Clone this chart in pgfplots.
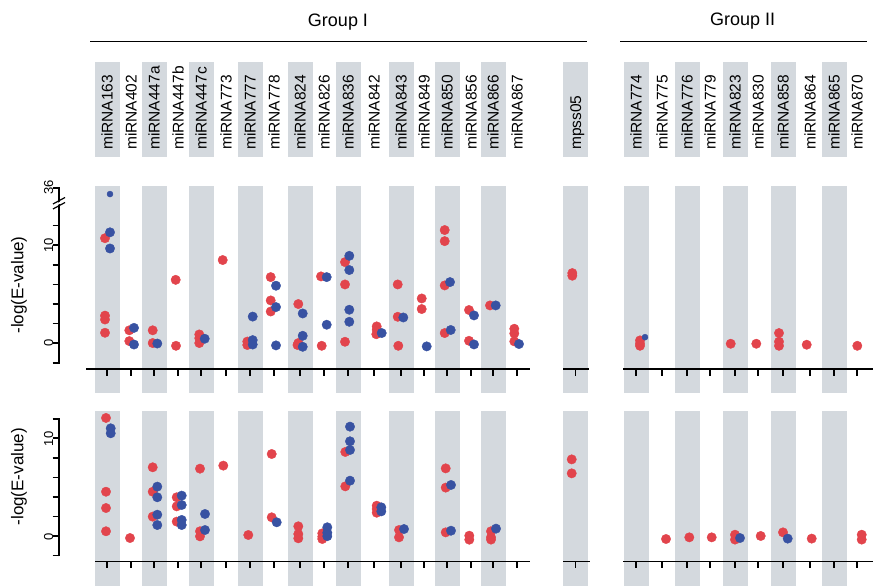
\documentclass[border=0pt]{standalone}
\usepackage{pgfplots}
\pgfplotsset{compat=1.18}
\usepackage{fontspec}
\setmainfont{Liberation Sans}
\definecolor{band}{RGB}{212,217,222}
\definecolor{dred}{RGB}{226,68,76}
\definecolor{dblue}{RGB}{56,82,162}
\begin{document}
\begin{tikzpicture}[x=1pt,y=1pt]
\useasboundingbox (0,0) rectangle (873,586);
% group headers
\node[font=\fontsize{18}{20}\selectfont, anchor=base] at (338,559.3) {Group I};
\node[font=\fontsize{18}{20}\selectfont, anchor=base] at (742.7,560) {Group II};
\draw[line width=1.6pt] (90,544.3) -- (587,544.3);
\draw[line width=1.6pt] (620,544.3) -- (867,544.3);
% shaded columns (labels and both panels)
\foreach \c in {107,154,201,250,300,348,401,447,493,575.5,636,687,735,783,834}{
  \fill[band] (\c-12.5,429) rectangle (\c+12.5,524);
  \fill[band] (\c-12.5,193) rectangle (\c+12.5,400);
  \fill[band] (\c-12.5,-2) rectangle (\c+12.5,175);
}
% category labels
\foreach \c/\t in {107/miRNA163,131/miRNA402,154/miRNA447a,178/miRNA447b,201/miRNA447c,226/miRNA773,250/miRNA777,274/miRNA778,300/miRNA824,324/miRNA826,348/miRNA836,374/miRNA842,401/miRNA843,424/miRNA849,447/miRNA850,471/miRNA856,493/miRNA866,517/miRNA867,575.5/mpss05,636/miRNA774,662/miRNA775,687/miRNA776,710/miRNA779,735/miRNA823,758/miRNA830,783/miRNA858,810/miRNA864,834/miRNA865,857/miRNA870}{
  \node[rotate=90, anchor=west, inner sep=0pt, text height=11pt, text depth=0pt, font=\fontsize{15.5}{17}\selectfont] at (\c,436) {\t};
}
% category axes (broken into three segments) with ticks
\draw[line width=1.6pt] (86,217) -- (530,217);
\draw[line width=1.6pt] (563,217) -- (589,217);
\draw[line width=1.6pt] (623,217) -- (873,217);
\draw[line width=1.6pt] (95,24.3) -- (530,24.3);
\draw[line width=1.6pt] (563,24.3) -- (590,24.3);
\draw[line width=1.6pt] (623,24.3) -- (873,24.3);
\foreach \c in {107,131,154,178,201,226,250,274,300,324,348,374,401,424,447,471,493,517,575.5,636,662,687,710,735,758,783,810,834,857}{
  \draw[line width=1.8pt] (\c,217) -- (\c,209.5);
  \draw[line width=1.8pt] (\c,24.3) -- (\c,17.5);
}
% value axes: lines and ticks
\draw[line width=1.6pt] (59,222.3) -- (59,398.8);
\foreach \yy in {223.1,242.7,262.3,281.9,301.5,321.1,340.7,360.3,398.0}{
  \draw[line width=1.6pt] (52.5,\yy) -- (59.8,\yy);
}
\draw[line width=1.6pt] (59,29.7) -- (59,168.1);
\foreach \yy in {30.5,50.04,69.58,89.12,108.66,128.2,147.74,167.28}{
  \draw[line width=1.6pt] (52.5,\yy) -- (59.8,\yy);
}
% axis break marks
\fill[white] (53,380.5) -- (65,387) -- (65,385) -- (53,378.5) -- cycle;
\draw[line width=1.2pt] (53,382) -- (65,388.5);
\draw[line width=1.2pt] (53,377) -- (65,383.5);
% y labels
\node[rotate=90, font=\fontsize{17}{19}\selectfont] at (19,301) {-log(E-value)};
\node[rotate=90, font=\fontsize{17}{19}\selectfont] at (19,109.3) {-log(E-value)};

% ---------------- top panel ----------------
\begin{axis}[
  at={(59,227.9)}, anchor=south west,
  x=1pt, y=9.8pt,
  xmin=59, xmax=873, ymin=-2, ymax=15.85,
  axis x line=none, axis y line=left,
  axis line style={draw=none},
  ytick={-2,0,2,4,6,8,10,12,15.85}, yticklabels={,0,,,,,10,,36},
  tick style={draw=none},
  yticklabel style={rotate=90, anchor=south, font=\fontsize{13}{15}\selectfont},
  /pgf/number format/assume math mode=true,
  clip=false,
]
\addplot[only marks, mark=*, mark size=4.7pt, color=dred] table {
x y
105 10.7
105 2.8
105 2.4
105 1.05
129.3 1.3
129.3 0.2
152.7 1.3
152.7 0.0
175.7 6.45
176 -0.28
199.3 0.88
199.3 0.5
199.3 0.0
222.7 8.47
247.3 0.15
247.3 -0.2
270.7 6.73
270.7 4.35
270.7 3.22
298.3 3.98
298.3 0.0
297.5 -0.2
321 6.8
321.7 -0.28
345 8.26
345 5.98
345 0.13
376.7 1.7
376.7 1.35
376.3 0.9
397.7 5.98
397.7 2.68
398.3 -0.28
421.7 4.55
421.7 3.47
444.7 11.53
444.7 10.4
444.7 5.88
444.7 1.02
469 3.37
469 0.23
490 3.84
514.3 1.46
514.3 0.98
514.3 0.17
572.3 7.14
572.3 6.87
640 0.27
640 -0.05
640 -0.28
730.7 -0.07
756.3 -0.07
779 1.02
779 0.14
779 -0.28
806.7 -0.17
857.3 -0.28
};
\addplot[only marks, mark=*, mark size=4.7pt, color=dblue] table {
x y
110 11.3
110 9.65
134 1.55
134 -0.15
157.3 -0.05
204.7 0.44
252.7 2.7
252.7 0.3
252.7 -0.15
276 5.85
276 3.67
276 -0.24
302.7 3.02
302.7 0.74
302.7 -0.38
326.7 6.73
326.7 1.87
349.3 8.9
349.3 7.45
349.3 3.4
349.3 2.17
381.7 1.02
403.3 2.61
426.7 -0.34
450 6.22
450.7 1.33
474 2.82
474 -0.14
495.7 3.84
519 -0.1
};
\addplot[only marks, mark=*, mark size=3pt, color=dblue] table {
x y
110 15.2
645 0.6
};
\end{axis}

% ---------------- bottom panel ----------------
\begin{axis}[
  at={(59,30.5)}, anchor=south west,
  x=1pt, y=9.77pt,
  xmin=59, xmax=873, ymin=-2, ymax=12,
  axis x line=none, axis y line=left,
  axis line style={draw=none},
  ytick={-2,0,2,4,6,8,10,12}, yticklabels={,0,,,,,10,},
  tick style={draw=none},
  yticklabel style={rotate=90, anchor=south, font=\fontsize{13}{15}\selectfont},
  /pgf/number format/assume math mode=true,
  clip=false,
]
\addplot[only marks, mark=*, mark size=4.7pt, color=dred] table {
x y
106 12.15
106 4.6
106 2.93
106 0.55
130 -0.14
152.7 7.1
152.7 4.6
152.7 2.05
176.7 4.03
176.7 3.1
176.7 1.54
200 6.96
200 0.55
200 0.03
223.3 7.27
248.3 0.17
271.7 8.46
271.7 1.98
298.3 1.06
298.3 0.27
298.3 -0.17
322.3 0.34
322.3 0.0
322.3 -0.24
345.3 8.67
345.3 5.15
376.7 3.17
376.7 2.83
376.7 2.45
399 0.68
399 -0.07
445.7 6.99
445.7 5.02
445.7 0.44
469.3 0.1
469.3 -0.31
491 0.55
491 -0.07
491 -0.3
571.7 7.91
571.7 6.48
666 -0.24
689.3 -0.07
711.7 -0.07
735 0.2
735 -0.3
760.7 0.07
783 0.44
811.7 -0.2
861.7 0.2
861.7 -0.3
};
\addplot[only marks, mark=*, mark size=4.7pt, color=dblue] table {
x y
110.7 11.09
110.7 10.58
157.3 5.12
157.3 4.03
157.3 2.25
157.3 1.19
181.7 4.2
181.7 3.24
181.7 1.71
181.7 1.19
205 2.32
205 0.68
276.7 1.47
327.3 0.96
327.3 0.4
327.3 0.05
350 11.26
350 9.76
350 8.87
350 5.73
381.3 3.0
381.3 2.59
404 0.78
451 5.29
451 0.61
496 0.82
740 -0.14
787.7 -0.2
};
\end{axis}
\end{tikzpicture}
\end{document}
